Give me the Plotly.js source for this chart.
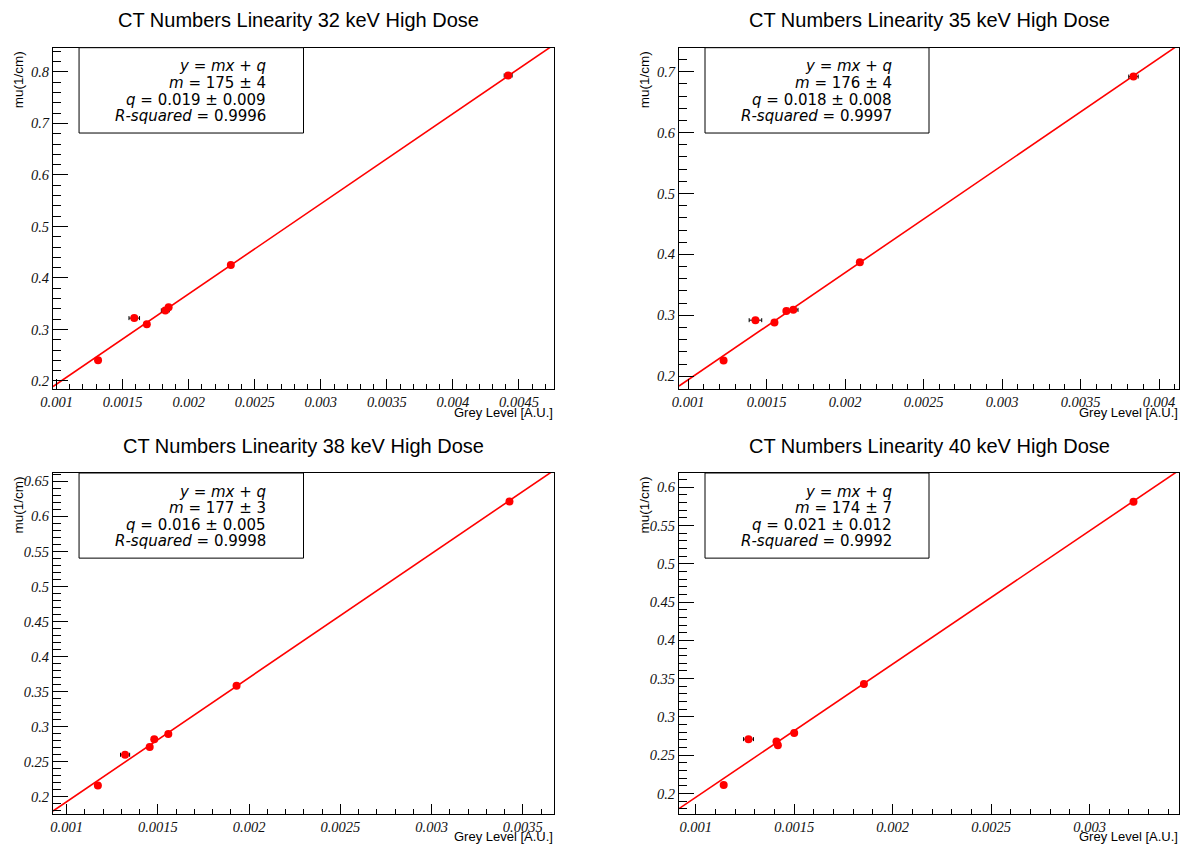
<!DOCTYPE html>
<html>
<head>
<meta charset="utf-8">
<script src="https://cdn.plot.ly/plotly-3.0.1.min.js"></script>
<style>html,body{margin:0;padding:0;background:#fff;}#chart{width:1190px;height:847px;}</style>
</head>
<body>
<div id="chart"></div>
<script>
// ---- data ----
const energies = ["32", "35", "38", "40"];

const x32 = [0.001314, 0.001588, 0.001683, 0.001823, 0.001848, 0.002319, 0.004418];
const y32 = [0.240, 0.322, 0.310, 0.337, 0.343, 0.425, 0.793];
const ex32 = [0.00001, 0.00004, 0.00001, 0.00003, 0.00001, 0.00001, 0.00003];

const x35 = [0.001226, 0.001429, 0.001550, 0.001626, 0.001670, 0.002094, 0.003837];
const y35 = [0.226, 0.292, 0.288, 0.307, 0.309, 0.387, 0.692];
const ex35 = [0.00001, 0.00004, 0.00001, 0.00001, 0.00003, 0.00001, 0.00003];

const x38 = [0.001171, 0.001320, 0.001455, 0.001480, 0.001557, 0.001931, 0.003427];
const y38 = [0.216, 0.260, 0.271, 0.282, 0.2895, 0.3586, 0.6214];
const ex38 = [0.00001, 0.000025, 0.00001, 0.00001, 0.00001, 0.00001, 0.00001];

const x40 = [0.001142, 0.001268, 0.001410, 0.001417, 0.001500, 0.001854, 0.003223];
const y40 = [0.211, 0.271, 0.268, 0.263, 0.279, 0.343, 0.581];
const ex40 = [0.00001, 0.000025, 0.00001, 0.00001, 0.00001, 0.00001, 0.00001];

const slopes = [175, 176, 177, 174];
const slopeErrs = ["4", "4", "3", "7"];
const intercepts = [0.019, 0.018, 0.016, 0.021];
const interceptLabels = ["0.019", "0.018", "0.016", "0.021"];
const interceptErrs = ["0.009", "0.008", "0.005", "0.012"];
const rSquared = ["0.9996", "0.9997", "0.9998", "0.9992"];

// tick labels
const xTickLabels32 = ["0.001", "0.0015", "0.002", "0.0025", "0.003", "0.0035", "0.004", "0.0045"];
const xTickLabels35 = ["0.001", "0.0015", "0.002", "0.0025", "0.003", "0.0035", "0.004"];
const xTickLabels38 = ["0.001", "0.0015", "0.002", "0.0025", "0.003", "0.0035"];
const xTickLabels40 = ["0.001", "0.0015", "0.002", "0.0025", "0.003"];
const yTickLabels32 = ["0.2", "0.3", "0.4", "0.5", "0.6", "0.7", "0.8"];
const yTickLabels35 = ["0.2", "0.3", "0.4", "0.5", "0.6", "0.7"];
const yTickLabels38 = ["0.2", "0.25", "0.3", "0.35", "0.4", "0.45", "0.5", "0.55", "0.6", "0.65"];
const yTickLabels40 = ["0.2", "0.25", "0.3", "0.35", "0.4", "0.45", "0.5", "0.55", "0.6"];

const xTitle = "Grey Level [A.U.]";
const yTitle = "mu(1/cm)";

// ---- layout geometry ----
const W = 1190, H = 847;
const xRanges = [[0.000973, 0.004765], [0.000942, 0.004127], [0.000925, 0.003671], [0.000915, 0.003454]];
const yRanges = [[0.1844, 0.8470], [0.1790, 0.7394], [0.1762, 0.6619], [0.1739, 0.6185]];
const xMinorStep = 0.0001;
const yMinorSteps = [0.02, 0.02, 0.01, 0.01];
// frame pixel boxes [left, right, top, bottom]
const frames = [[53, 554, 47.7, 389], [679, 1179, 47.7, 389], [53, 554, 473, 813.5], [679, 1179, 473, 813.5]];
const titleX = [298, 929, 303, 929];

const xs = [x32, x35, x38, x40], ys = [y32, y35, y38, y40], exs = [ex32, ex35, ex38, ex40];
const xTickLabels = [xTickLabels32, xTickLabels35, xTickLabels38, xTickLabels40];
const yTickLabels = [yTickLabels32, yTickLabels35, yTickLabels38, yTickLabels40];

const serif = "Liberation Serif";
const sansFont = "Liberation Sans";

// minor tick positions across a range (tick grid, not data)
function minorVals(rng, step) {
  const out = [];
  const k0 = Math.ceil(rng[0] / step - 1e-9), k1 = Math.floor(rng[1] / step + 1e-9);
  for (let k = k0; k <= k1; k++) out.push(+(k * step).toFixed(8));
  return out;
}

const traces = [];
const layout = {
  width: W, height: H,
  margin: {l: 0, r: 0, t: 0, b: 0},
  paper_bgcolor: "#ffffff", plot_bgcolor: "#ffffff",
  font: {family: serif, size: 14.5, color: "#111"},
  showlegend: false,
  annotations: [], shapes: []
};

for (let i = 0; i < 4; i++) {
  const sfx = i === 0 ? "" : String(i + 1);
  const xa = "x" + sfx, ya = "y" + sfx;
  const f = frames[i];
  const xdom = [f[0] / W, f[1] / W];
  const ydom = [1 - f[3] / H, 1 - f[2] / H];

  layout["xaxis" + sfx] = {
    domain: xdom, anchor: ya, range: xRanges[i],
    showgrid: false, zeroline: false,
    showline: true, linecolor: "#000", linewidth: 1, mirror: true,
    ticks: "inside", ticklen: 10, tickcolor: "#000", tickwidth: 1,
    tickmode: "array",
    tickvals: xTickLabels[i].map(Number),
    ticktext: xTickLabels[i].map(s => "<i>" + s + "</i>"),
    minor: {ticks: "inside", ticklen: 5, tickmode: "array", tickvals: minorVals(xRanges[i], xMinorStep),
            tickcolor: "#000", tickwidth: 1, showgrid: false},
    tickfont: {family: serif, size: 14.5, color: "#111"},
    fixedrange: true
  };
  layout["yaxis" + sfx] = {
    domain: ydom, anchor: xa, range: yRanges[i],
    showgrid: false, zeroline: false,
    showline: true, linecolor: "#000", linewidth: 1, mirror: true,
    ticks: "inside", ticklen: 15, tickcolor: "#000", tickwidth: 1,
    tickmode: "array",
    tickvals: yTickLabels[i].map(Number),
    ticktext: yTickLabels[i].map(s => "<i>" + s + "</i>"),
    minor: {ticks: "inside", ticklen: 8, tickmode: "array", tickvals: minorVals(yRanges[i], yMinorSteps[i]),
            tickcolor: "#000", tickwidth: 1, showgrid: false},
    tickfont: {family: serif, size: 14.5, color: "#111"},
    fixedrange: true
  };

  // fit line across the axis range
  const fx = [xRanges[i][0], xRanges[i][1]];
  const fy = fx.map(v => slopes[i] * v + intercepts[i]);
  traces.push({
    x: fx, y: fy, xaxis: xa, yaxis: ya, type: "scatter", mode: "lines",
    line: {color: "#ff0000", width: 1.6}, hoverinfo: "skip"
  });
  // data points
  traces.push({
    x: xs[i], y: ys[i], xaxis: xa, yaxis: ya, type: "scatter", mode: "markers",
    marker: {color: "#ff0000", size: 8, line: {width: 0}},
    error_x: {type: "data", array: exs[i], visible: true, color: "#000", thickness: 1, width: 2},
    cliponaxis: true
  });

  // stats box
  layout.shapes.push({
    type: "rect", xref: xa + " domain", yref: ya + " domain",
    x0: 0.052, x1: 0.5, y0: 0.75, y1: 1.0,
    line: {color: "#000", width: 1}, fillcolor: "#ffffff", layer: "above"
  });
  const lines = [
    "<i>y</i> = <i>mx</i> + <i>q</i>",
    "<i>m</i> = " + slopes[i] + " ± " + slopeErrs[i],
    "<i>q</i> = " + interceptLabels[i] + " ± " + interceptErrs[i],
    "<i>R-squared</i> = " + rSquared[i]
  ];
  const ly = [0.945, 0.897, 0.848, 0.799];
  lines.forEach((t, k) => {
    layout.annotations.push({
      xref: xa + " domain", yref: ya + " domain", x: 0.43, y: ly[k],
      xanchor: "right", yanchor: "middle", showarrow: false, text: t,
      font: {family: "DejaVu Sans", size: 15, color: "#000"}
    });
  });

  // panel title
  layout.annotations.push({
    xref: "paper", yref: "paper", x: titleX[i] / W, y: 1 - (f[2] - 27.5) / H,
    xanchor: "center", yanchor: "middle", showarrow: false,
    text: "CT Numbers Linearity " + energies[i] + " keV High Dose",
    font: {family: sansFont, size: 20, color: "#000"}
  });
  // x axis title
  layout.annotations.push({
    xref: "paper", yref: "paper", x: (f[1] + 1) / W, y: 1 - (f[3] + 23) / H,
    xanchor: "right", yanchor: "middle", showarrow: false, text: xTitle,
    font: {family: sansFont, size: 13, color: "#000"}
  });
  // y axis title (rotated, aligned to the top of the axis)
  layout.annotations.push({
    xref: "paper", yref: "paper", x: (f[0] - 35) / W, y: 1 - (f[2] + 2) / H,
    xanchor: "center", yanchor: "top", showarrow: false, text: yTitle, textangle: -90,
    font: {family: sansFont, size: 13.5, color: "#000"}
  });
}

Plotly.newPlot("chart", traces, layout, {displayModeBar: false, staticPlot: true});
</script>
</body>
</html>
